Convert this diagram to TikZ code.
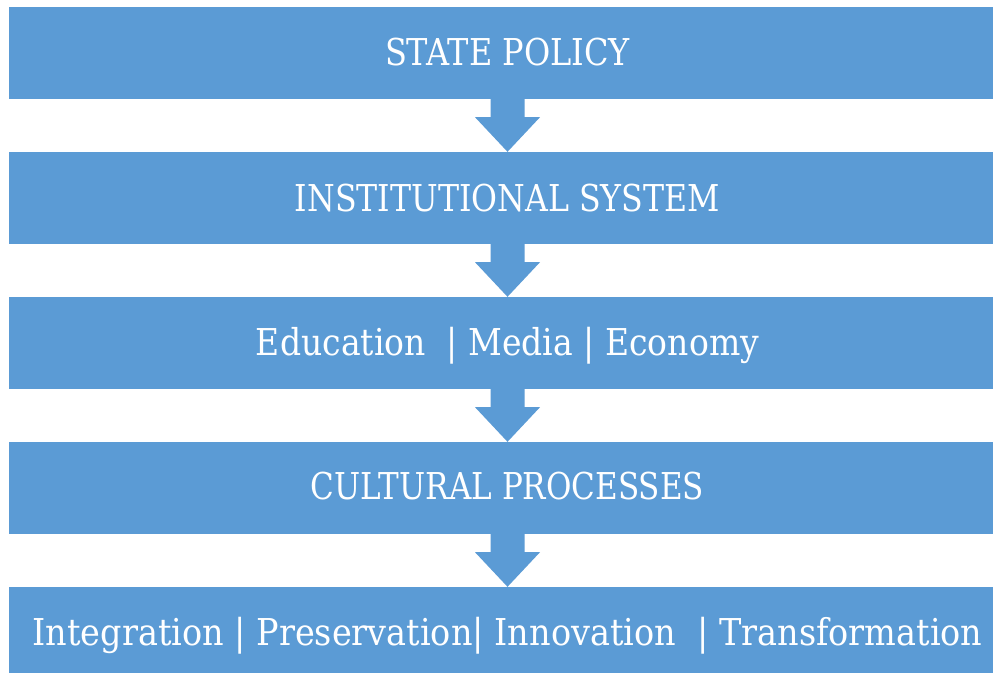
\documentclass[tikz,border=0pt]{standalone}
\usepackage{fontspec}
\setmainfont{DejaVu Serif}
\usepackage{graphicx}
\definecolor{boxblue}{HTML}{5B9BD5}
\newcommand{\fitw}[2]{\resizebox{#1}{\height}{#2}}
\begin{document}
\begin{tikzpicture}[x=1pt,y=-1pt,
  stagebox/.style={fill=boxblue,draw=none,minimum width=997pt,minimum height=92pt,inner sep=0pt},
  stagetext/.style={text=white,anchor=base,inner sep=0pt,font=\fontsize{37}{40}\selectfont},
  flowarrow/.style={fill=boxblue,draw=none}]
\clip (0,0) rectangle (993,672);
\fill[white] (0,0) rectangle (993,672);
\node[stagebox] (b1) at (507.5,53) {};
\node[stagebox] (b2) at (507.5,198) {};
\node[stagebox] (b3) at (507.5,343) {};
\node[stagebox] (b4) at (507.5,488) {};
\node[stagebox] (b5) at (507.5,633) {};
\node[stagetext] (t1) at ([yshift=-12.5pt]b1.center) {\fitw{245pt}{STATE POLICY}};
\node[stagetext] (t2) at ([yshift=-13pt]b2.center) {\fitw{425pt}{INSTITUTIONAL SYSTEM}};
\node[stagetext] (t3) at ([yshift=-12pt]b3.center) {\fitw{503pt}{Education\ \ | Media | Economy}};
\node[stagetext] (t4) at ([yshift=-11.5pt]b4.center) {\fitw{393pt}{CULTURAL PROCESSES}};
\node[stagetext] (t5) at ([yshift=-12pt]b5.center) {\fitw{950pt}{Integration | Preservation| Innovation\ \ | Transformation}};
\foreach \a/\b in {b1/b2,b2/b3,b3/b4,b4/b5}{
  \fill[flowarrow] ([xshift=-17pt]\a.south) -- ([xshift=17pt]\a.south)
    -- ([xshift=17pt,yshift=-18pt]\a.south) -- ([xshift=32.5pt,yshift=-18pt]\a.south)
    -- (\b.north) -- ([xshift=-32.5pt,yshift=-18pt]\a.south)
    -- ([xshift=-17pt,yshift=-18pt]\a.south) -- cycle;
}
\end{tikzpicture}
\end{document}
